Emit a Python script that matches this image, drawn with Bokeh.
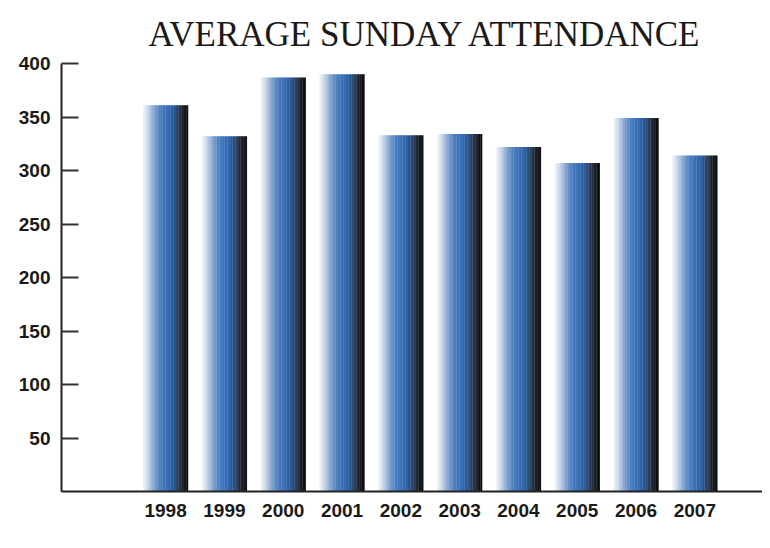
from bokeh.plotting import figure
from bokeh.models import Range1d, FixedTicker, ColumnDataSource
from bokeh.embed import file_html
from bokeh.resources import INLINE

# ---- data ----
years = ["1998", "1999", "2000", "2001", "2002", "2003", "2004", "2005", "2006", "2007"]
attendance = [361, 332, 387, 390, 333, 334, 322, 307, 349, 314]
y_ticks = [50, 100, 150, 200, 250, 300, 350, 400]
title_text = "AVERAGE SUNDAY ATTENDANCE"

# ---- styling ----
BAR_W = 0.765
N_STRIPS = 28
stops = [
    (0.00, (244, 247, 250)),
    (0.10, (205, 218, 235)),
    (0.25, (130, 162, 207)),
    (0.40, (72, 124, 192)),
    (0.55, (54, 108, 180)),
    (0.68, (42, 88, 150)),
    (0.80, (45, 58, 80)),
    (0.90, (26, 29, 36)),
    (1.00, (10, 10, 12)),
]


def grad(t):
    for (t0, c0), (t1, c1) in zip(stops[:-1], stops[1:]):
        if t0 <= t <= t1:
            f = (t - t0) / (t1 - t0) if t1 > t0 else 0
            c = [round(a + (b - a) * f) for a, b in zip(c0, c1)]
            return "#%02x%02x%02x" % tuple(c)
    return "#%02x%02x%02x" % stops[-1][1]


xs, tops, cols = [], [], []
sw = BAR_W / N_STRIPS
for i, val in enumerate(attendance):
    for k in range(N_STRIPS):
        xs.append(i - BAR_W / 2 + (k + 0.5) * sw)
        tops.append(val)
        cols.append(grad((k + 0.5) / N_STRIPS))
src = ColumnDataSource(dict(x=xs, top=tops, color=cols))

p = figure(
    width=762, height=544,
    x_range=Range1d(-1.77, 10.15), y_range=Range1d(0, 400),
    output_backend="svg", toolbar_location=None,
    min_border_left=61, min_border_right=0, min_border_top=63, min_border_bottom=53,
)
p.outline_line_color = None
p.xgrid.visible = False
p.ygrid.visible = False
p.background_fill_color = "white"
p.border_fill_color = "white"

p.vbar(x="x", top="top", bottom=0, width=sw * 1.2, source=src,
       fill_color="color", line_color=None)

# title
p.title.text = title_text
p.title.text_font = "Liberation Serif"
p.title.text_font_style = "normal"
p.title.text_font_size = "35px"
p.title.text_color = "#1a1a1a"
p.title.align = "left"
p.title.offset = 87
p.title.standoff = 20

# y axis
p.yaxis.ticker = FixedTicker(ticks=y_ticks)
p.yaxis.major_tick_in = 17
p.yaxis.major_tick_out = 0
p.yaxis.minor_tick_line_color = None
p.yaxis.axis_line_width = 2
p.yaxis.axis_line_color = "#222222"
p.yaxis.major_tick_line_width = 2
p.yaxis.major_tick_line_color = "#333333"
p.yaxis.major_label_text_font = "Liberation Sans"
p.yaxis.major_label_text_font_style = "bold"
p.yaxis.major_label_text_font_size = "19px"
p.yaxis.major_label_text_color = "#1a1a1a"
p.yaxis.major_label_standoff = 11

# x axis
p.xaxis.ticker = FixedTicker(ticks=list(range(len(years))))
p.xaxis.major_label_overrides = {i: y for i, y in enumerate(years)}
p.xaxis.major_tick_in = 0
p.xaxis.major_tick_out = 0
p.xaxis.minor_tick_line_color = None
p.xaxis.axis_line_width = 2
p.xaxis.axis_line_color = "#222222"
p.xaxis.major_label_text_font = "Liberation Sans"
p.xaxis.major_label_text_font_style = "bold"
p.xaxis.major_label_text_font_size = "19px"
p.xaxis.major_label_text_color = "#1a1a1a"
p.xaxis.major_label_standoff = 12

open("out.html", "w").write(file_html(p, INLINE))
